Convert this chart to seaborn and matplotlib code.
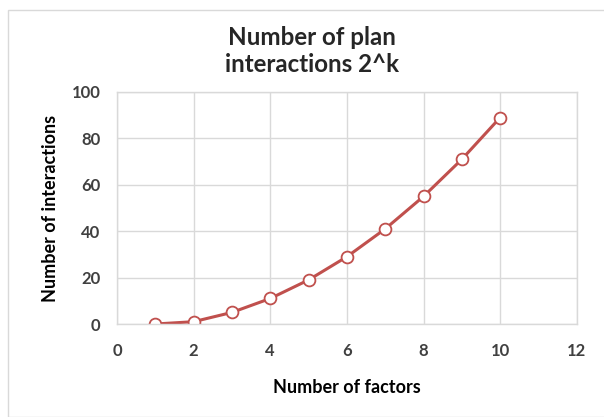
import matplotlib
matplotlib.use("Agg")
import matplotlib.pyplot as plt
import seaborn as sns
import pandas as pd
from matplotlib.patches import Rectangle

factors = [1, 2, 3, 4, 5, 6, 7, 8, 9, 10]
interactions = [0, 1, 5, 11, 19, 29, 41, 55, 71, 89]
x_ticks = [0, 2, 4, 6, 8, 10, 12]
y_ticks = [0, 20, 40, 60, 80, 100]

df = pd.DataFrame({"factors": factors, "interactions": interactions})

sns.set_theme(style="whitegrid")
plt.rcParams['font.family'] = ['Lato', 'DejaVu Sans']

fig = plt.figure(figsize=(6.04, 4.17), dpi=100)
ax = fig.add_axes([0.1937, 0.223, 0.7613, 0.5564])

red = "#C0504D"
sns.lineplot(data=df, x="factors", y="interactions", ax=ax, color=red,
             linewidth=2.2, marker="o", markersize=8.5,
             markerfacecolor="white", markeredgecolor=red, markeredgewidth=1.3)

ax.set_xlim(0, 12)
ax.set_ylim(0, 100)
ax.set_xticks(x_ticks)
ax.set_yticks(y_ticks)
ax.set_xticklabels([str(v) for v in x_ticks], fontsize=12, fontweight="bold", color="#404040")
ax.set_yticklabels([str(v) for v in y_ticks], fontsize=12, fontweight="bold", color="#404040")
ax.tick_params(axis="x", length=0, pad=14)
ax.tick_params(axis="y", length=0, pad=12)
ax.grid(True, color="#D9D9D9", linewidth=1)
for s in ax.spines.values():
    s.set_visible(True)
    s.set_color("#D9D9D9")
    s.set_linewidth(1)

ax.set_xlabel("Number of factors", fontsize=13, fontweight="bold", color="black", labelpad=14)
ax.set_ylabel("Number of interactions", fontsize=13, fontweight="bold", color="black", labelpad=9)

fig.text(0.517, 0.910, "Number of plan", ha="center", va="center", fontsize=17.4, fontweight="bold")
fig.text(0.517, 0.845, "interactions 2^k", ha="center", va="center", fontsize=17.4, fontweight="bold")

fig.patches.append(Rectangle((0.013, 0.0), 0.99, 0.975, transform=fig.transFigure,
                             fill=False, edgecolor="#D9D9D9", linewidth=1))

fig.savefig("out.png", dpi=100)
